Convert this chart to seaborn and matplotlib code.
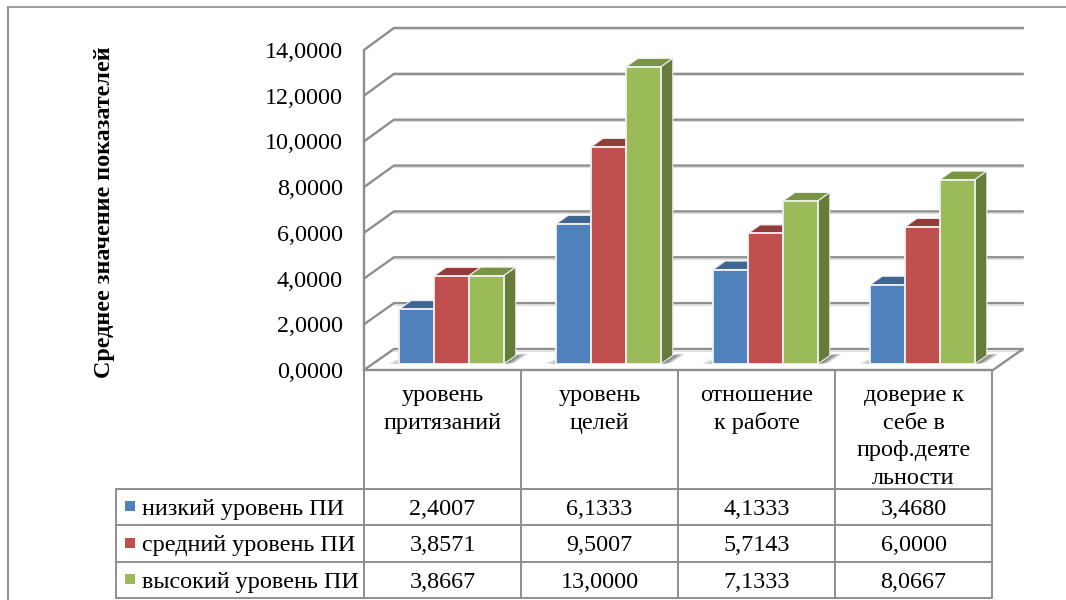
import numpy as np
import pandas as pd
import matplotlib
matplotlib.use('Agg')
import matplotlib.pyplot as plt
from matplotlib.transforms import ScaledTranslation
import seaborn as sns

# ─── Data ───────────────────────────────────────────────────────────────────
categories = ['уровень притязаний', 'уровень целей', 'отношение к работе',
              'доверие к себе в проф.деятельности']
category_lines = [['уровень', 'притязаний'], ['уровень', 'целей'],
                  ['отношение', 'к работе'],
                  ['доверие к', 'себе в', 'проф.деяте', 'льности']]
levels = ['низкий уровень ПИ', 'средний уровень ПИ', 'высокий уровень ПИ']
low_values = [2.4007, 6.1333, 4.1333, 3.4680]
mid_values = [3.8571, 9.5007, 5.7143, 6.0000]
high_values = [3.8667, 13.0000, 7.1333, 8.0667]
y_ticks = [0, 2, 4, 6, 8, 10, 12, 14]
y_title = 'Среднее значение показателей'

front_colors = ['#4F81BD', '#C0504D', '#9BBB59']
top_colors = ['#3E6594', '#943C3A', '#7A9445']
side_colors = ['#3A5E8C', '#8A3836', '#677C3A']
LINE = '#8E8E8E'
FS = 17.4

sns.set_theme(style='white')
plt.rcParams['font.family'] = ['Liberation Serif', 'DejaVu Serif']
plt.rcParams['text.color'] = 'black'

W, H = 1066, 600
fig = plt.figure(figsize=(W / 100, H / 100), dpi=100, facecolor='white')

# overlay in pixel coordinates: frame, walls, table
over = fig.add_axes([0, 0, 1, 1], zorder=0)
over.set_xlim(0, W)
over.set_ylim(H, 0)
over.axis('off')

# bars sit on a plane slightly inside the floor
ax = fig.add_axes([373 / W, (H - 364) / H, 628 / W, 320 / H], zorder=1)
ax.patch.set_alpha(0)

df = pd.DataFrame({
    'category': categories * 3,
    'level': np.repeat(levels, 4),
    'value': low_values + mid_values + high_values,
})
sns.barplot(data=df, x='category', y='value', hue='level', order=categories,
            hue_order=levels, palette=front_colors, saturation=1, width=2 / 3,
            gap=0, dodge=True, legend=False, ax=ax,
            edgecolor='#F1F1F1', linewidth=1.3)
ax.set_xlim(-0.5, 3.5)
ax.set_ylim(0, 14)
ax.set_xlabel('')
ax.set_ylabel('')
ax.set_xticks([])
ax.set_yticks(y_ticks)
ax.set_yticklabels([f'{v:.4f}'.replace('.', ',') for v in y_ticks], fontsize=FS)
ax.tick_params(axis='y', length=0, pad=21.6, labelcolor='black')
# tick labels follow the front edge of the floor, 6 px below the bar plane
shift = ScaledTranslation(0, -6 / 100, fig.dpi_scale_trans)
for lab in ax.get_yticklabels():
    lab.set_transform(lab.get_transform() + shift)
sns.despine(ax=ax, left=True, bottom=True)

# ─── 3D faces of every bar ──────────────────────────────────────────────────
DX = 12 / 157       # bar depth, in x data units
DY = 8.5 / 22.86    # bar depth, in value units
bars = [p for p in ax.patches if p.get_height() > 0]
for i, bar in enumerate(bars):
    h = i // 4
    x0, x1, top = bar.get_x(), bar.get_x() + bar.get_width(), bar.get_height()
    z = 10 + 3 * h
    bar.set_zorder(z + 1)
    ax.fill([x0, x1, x1 + DX, x0 + DX], [top, top, top + DY, top + DY],
            color=top_colors[h], ec='#F1F1F1', lw=0.8, zorder=z, clip_on=False)
    ax.fill([x1, x1 + DX, x1 + DX, x1], [0, DY, top + DY, top],
            color=side_colors[h], ec='#F1F1F1', lw=0.8, zorder=z, clip_on=False)
    # soft shadow on the floor beside the group
    if h == 2:
        for k in [1.0, 0.85, 0.7, 0.55, 0.4, 0.25]:
            ax.fill([x1, x1 + DX, x1 + DX + k * 12 / 157, x1 + k * 10 / 157],
                    [0, DY, DY + 0.08, 0.04], color='#555555', alpha=0.22, lw=0,
                    zorder=5, clip_on=False)
    if h == 0:
        for k in [1.0, 0.7, 0.4]:
            ax.fill([x0, x0 - k * 11 / 157, x0 + 6 / 157],
                    [0, 0.02, k * DY], color='#777777', alpha=0.2, lw=0,
                    zorder=5, clip_on=False)

# ─── Walls and floor ────────────────────────────────────────────────────────
FX0, FX1, BX0, BX1 = 364, 993, 394, 1023
for v in y_ticks:
    yf = 370 - v * 22.86
    yb = 349 - v * 22.93
    over.plot([FX0, BX0, BX1], [yf, yb, yb], color=LINE, lw=1.7,
              solid_joinstyle='miter')
    over.plot([BX0, BX1], [yb + 1.5, yb + 1.5], color='#DDDDDD', lw=0.8)
over.plot([FX0, FX0], [370 - 14 * 22.86, 370], color=LINE, lw=1.7)
over.plot([FX0, FX1, BX1], [370, 370, 349], color=LINE, lw=1.7)

# outer frame
over.plot([8, 8], [H, 7], color=LINE, lw=1.4)
over.plot([8, W], [7, 7], color=LINE, lw=1.2)

# ─── Data table ─────────────────────────────────────────────────────────────
col_x = [364, 521, 678, 835, 992]
row_y = [489, 525, 562, 598]
row_base = [515, 551, 588]
for x in col_x:
    over.plot([x, x], [370, 598], color=LINE, lw=1.4)
for y in row_y:
    over.plot([116, 992], [y, y], color=LINE, lw=1.4)
over.plot([116, 116], [489, 598], color=LINE, lw=1.4)

for c, lines in enumerate(category_lines):
    cx = (col_x[c] + col_x[c + 1]) / 2
    for n, line in enumerate(lines):
        over.text(cx, 401 + n * 27.6, line, ha='center', va='baseline', fontsize=FS)

series = [low_values, mid_values, high_values]
for r, (label, vals) in enumerate(zip(levels, series)):
    cy = (row_y[r] + row_y[r + 1]) / 2 - 1
    over.fill([125, 135, 135, 125], [cy - 5, cy - 5, cy + 5, cy + 5],
              color=front_colors[r], lw=0)
    over.text(142, row_base[r], label, ha='left', va='baseline', fontsize=FS)
    for c, v in enumerate(vals):
        cx = (col_x[c] + col_x[c + 1]) / 2
        over.text(cx, row_base[r], f'{v:.4f}'.replace('.', ','), ha='center',
                  va='baseline', fontsize=FS)

over.text(105, 212, y_title, rotation=90, ha='center', va='center',
          fontsize=FS, fontweight='bold')

fig.savefig('out.png', dpi=100, facecolor='white')
